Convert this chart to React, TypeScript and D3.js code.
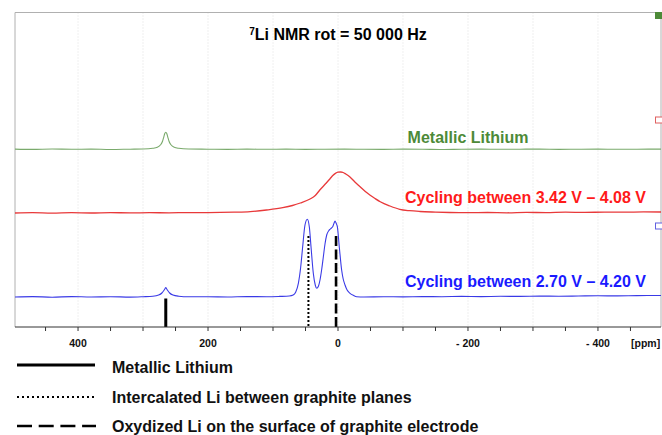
import React from "react";
import * as d3 from "d3";

// ---- data (ppm, relative intensity) ----
const metallicPpm = [497, 470, 440, 410, 380, 350, 320, 300, 285, 278, 273, 270, 268, 266.5, 265, 263.5, 262, 260, 257, 252, 245, 230, 200, 170, 140, 110, 80, 50, 20, -10, -40, -70, -100, -130, -160, -190, -220, -250, -280, -310, -340, -370, -400, -430, -460, -497];
const metallicInt = [0.2, -0.1, 0.3, 0, 0.2, -0.2, 0.1, 0.3, 1.0, 2.0, 4.5, 8.0, 12.5, 15.8, 17, 15.8, 12.5, 8.0, 4.5, 2.0, 1.0, 0.3, 0.1, -0.1, 0.2, 0, 0.2, -0.1, 0.1, 0.2, 0, -0.1, 0.2, 0.1, -0.2, 0.1, 0.2, 0, 0.1, 0.2, -0.1, 0.1, 0.2, 0, 0.1, 0.2];

const cycle1Ppm = [497, 470, 440, 410, 380, 350, 320, 290, 260, 230, 200, 160, 135, 110, 85, 70, 58, 43, 35, 28, 18, 12, 8, 4, 0, -4, -8, -12, -18, -26, -34, -42, -49, -57, -65, -80, -95, -110, -126, -150, -172, -200, -230, -260, -290, -320, -350, -380, -410, -440, -470, -497];
const cycle1Int = [0, 0.4, -0.2, 0.3, 0, 0.4, 0.1, 0.3, 0.2, 0.4, 0.4, 0.8, 1.4, 3, 5.3, 7.5, 10, 14, 17.5, 23, 30, 34.5, 37.5, 39.6, 40.8, 41, 40.5, 39, 36.3, 31, 26.3, 21.5, 18, 14.5, 11.3, 7, 3.7, 2.3, 1.5, 0.9, 0.5, 0.3, 0.5, 0.2, 0.6, 0.4, 0.8, 0.6, 0.9, 0.8, 1.1, 1.0];

const cycle2Ppm = [497, 470, 440, 410, 380, 350, 320, 300, 285, 276, 271, 268, 266, 265, 264, 262, 259, 254, 245, 230, 200, 170, 140, 110, 90, 75, 69, 65, 61, 57.4, 54.4, 50.8, 47.2, 44.1, 41.5, 38, 35, 32.8, 30, 27.7, 25, 22.6, 20, 17.4, 14, 12.3, 10, 8.2, 6, 4.6, 3, 1, -2, -5.6, -8, -10.8, -14, -18.5, -24, -28.7, -40, -70, -100, -130, -160, -190, -220, -250, -280, -310, -340, -370, -400, -430, -460, -497];
const cycle2Int = [0, 0.4, -0.2, 0.4, 0, 0.3, -0.1, 0.3, 0.8, 2, 4, 6.5, 8.5, 9.5, 8.5, 6.5, 4, 2, 0.8, 0.2, 0.3, 0, 0.4, 0.3, 0.6, 1, 2, 5, 13.7, 30, 50, 72, 77.7, 70, 50, 23.7, 12, 8.7, 11, 17, 28, 40, 53, 62, 66.5, 67.7, 69, 70.3, 74, 76, 74, 70.3, 50, 27, 18, 12, 7, 3.7, 1.5, 0.3, 0, 0.3, 0.1, 0.4, 0.3, 0.6, 0.4, 0.7, 0.6, 0.9, 0.8, 1.0, 1.2, 1.1, 1.4, 1.5];

const seriesNames = ["Metallic Lithium", "Cycling between 3.42 V \u2013 4.08 V", "Cycling between 2.70 V \u2013 4.20 V"];
const seriesOffsets = [177.7, 114, 30];

const axisTicks = d3.range(450, -451, -50);
const labelTicks = [400, 200, 0, -200, -400];
const gridTicks = [400, 300, 200, 100, 0, -100, -200, -300, -400];

// reference lines (ppm) and their top (intensity above cycle2 baseline)
const refPpm = [265, 45.5, 3];
const refTop = [-1.5, 61, 61];
const legendLabels = ["Metallic Lithium", "Intercalated Li between graphite planes", "Oxydized Li on the surface of graphite electrode"];

const W = 662, H = 435;
const L = 15, R = 661, T = 12.5, B = 327;
const FONT = "'Liberation Sans', Arial, Helvetica, sans-serif";
const colors = ["#7aaa6c", "#e8393a", "#3a3ae6"];
const labelColors = ["#4d8a38", "#ff1a1a", "#1a1aff"];
const markerColors = ["#4d8a38", "#e06060", "#6060e0"];
const markerY = [12.5, 117, 223];
const labelY = [142.7, 203.3, 286.7];
const refStyles = [
  { w: 3, dash: undefined },
  { w: 2, dash: "2,2" },
  { w: 2.6, dash: "10,3.5" },
];
const legendStyles = [
  { w: 3, dash: undefined },
  { w: 2, dash: "2,3" },
  { w: 2.6, dash: "15,6.7" },
];

export default function App() {
  const x = d3.scaleLinear().domain([497, -497]).range([L, R]);
  const y = d3.scaleLinear().domain([0, B - T]).range([B, T]);
  const all = [
    [metallicPpm, metallicInt],
    [cycle1Ppm, cycle1Int],
    [cycle2Ppm, cycle2Int],
  ];
  const fmt = (d: number) => (d < 0 ? "- " + -d : String(d));
  return (
    <svg width={W} height={H} style={{ position: "absolute", left: 0, top: 0, background: "#fff" }} fontFamily={FONT}>
      <defs>
        <clipPath id="plot">
          <rect x={L} y={T} width={R - L} height={B - T} />
        </clipPath>
      </defs>
      <rect x={0} y={0} width={W} height={H} fill="#fff" />
      {gridTicks.map((t) => (
        <line key={"g" + t} x1={x(t)} x2={x(t)} y1={T} y2={B} stroke="#d8d8d8" strokeWidth={0.8} strokeDasharray="1,2" />
      ))}
      {/* frame */}
      <line x1={L} x2={L} y1={T} y2={B} stroke="#b0b0b0" strokeWidth={1} />
      <line x1={L} x2={R} y1={T} y2={T} stroke="#b0b0b0" strokeWidth={1} />
      <line x1={R} x2={R} y1={T} y2={B} stroke="#b0b0b0" strokeWidth={1} />
      {/* spectra */}
      <g clipPath="url(#plot)">
        {all.map(([p, v], i) => {
          const pts: [number, number][] = p.map((pp, k) => [pp, v[k]]);
          const line = d3
            .line<[number, number]>()
            .x((d) => x(d[0]))
            .y((d) => y(d[1] + seriesOffsets[i]))
            .curve(d3.curveMonotoneX);
          return <path key={i} d={line(pts) || ""} fill="none" stroke={colors[i]} strokeWidth={i === 1 ? 1.3 : 1.1} />;
        })}
      </g>
      {/* markers at right edge */}
      {markerY.map((my, i) => (
        <rect key={"m" + i} x={655.5} y={my} width={7} height={6} fill={i === 0 ? markerColors[i] : "#fff"} stroke={markerColors[i]} strokeWidth={1} />
      ))}
      {/* reference lines */}
      {refPpm.map((p, i) => (
        <line key={"r" + i} x1={x(p)} x2={x(p)} y1={y(seriesOffsets[2] + refTop[i])} y2={B} stroke="#000" strokeWidth={refStyles[i].w} strokeDasharray={refStyles[i].dash} />
      ))}
      {/* axis */}
      <line x1={L} x2={R} y1={B} y2={B} stroke="#333" strokeWidth={1} />
      {axisTicks.map((t) => (
        <line key={"t" + t} x1={x(t)} x2={x(t)} y1={B} y2={B + 4} stroke="#333" strokeWidth={1} />
      ))}
      {labelTicks.map((t) => (
        <text key={"l" + t} x={x(t)} y={346.7} textAnchor="middle" fontSize={10.5} fontWeight="bold" fill="#111">
          {fmt(t)}
        </text>
      ))}
      <text x={631} y={346.7} fontSize={10.5} fontWeight="bold" fill="#111">[ppm]</text>
      {/* title */}
      <text x={338} y={40} textAnchor="middle" fontSize={16} fontWeight="bold" fill="#000">
        <tspan fontSize={10} dy={-5}>7</tspan>
        <tspan dy={5}>Li NMR rot = 50 000 Hz</tspan>
      </text>
      {/* series labels */}
      {seriesNames.map((n, i) => (
        <text key={"s" + i} x={i === 0 ? 528.5 : 405} y={labelY[i]} textAnchor={i === 0 ? "end" : "start"} fontSize={16} fontWeight="bold" fill={labelColors[i]}>
          {n}
        </text>
      ))}
      {/* legend */}
      {legendLabels.map((lab, i) => {
        const ly = [365, 397, 426][i];
        return (
          <g key={"lg" + i}>
            <line x1={17} x2={i === 2 ? 96 : 95} y1={ly} y2={ly} stroke="#000" strokeWidth={legendStyles[i].w} strokeDasharray={legendStyles[i].dash} />
            <text x={112} y={[372.7, 403.3, 431.7][i]} fontSize={16} fontWeight="bold" fill="#111">
              {lab}
            </text>
          </g>
        );
      })}
    </svg>
  );
}
